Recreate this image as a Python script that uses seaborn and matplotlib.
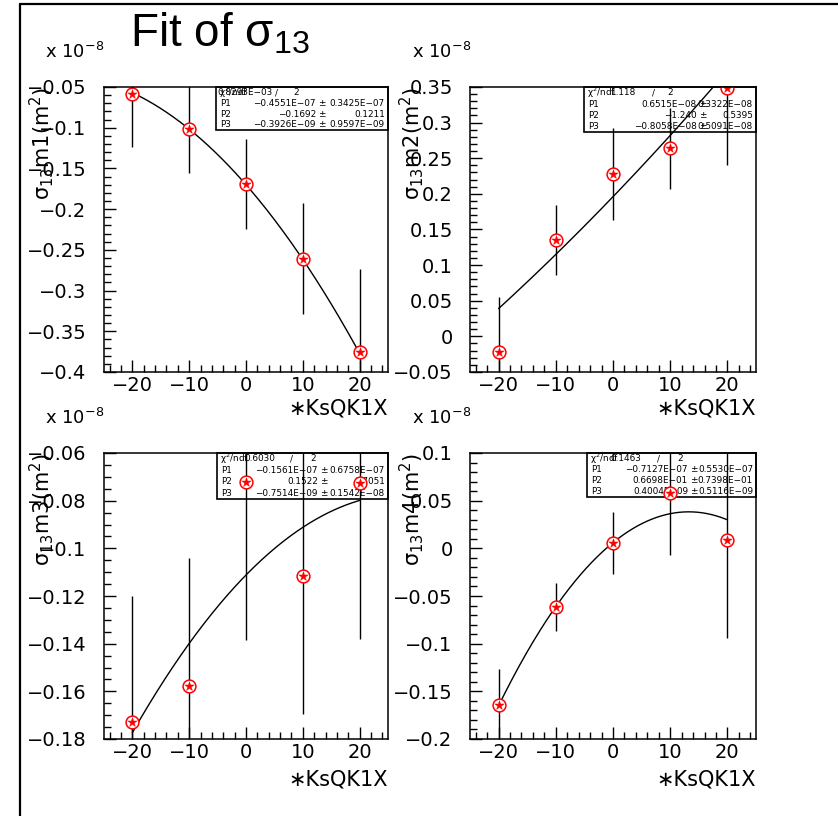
import numpy as np
import pandas as pd
import matplotlib
matplotlib.use('Agg')
import matplotlib.pyplot as plt
from matplotlib.ticker import MultipleLocator, FuncFormatter
from matplotlib.patches import Rectangle
from matplotlib.lines import Line2D
import seaborn as sns

# ---------------- data (y values in units of 1e-8 m^2) ----------------
x_vals = [-20, -10, 0, 10, 20]

m1_vals = [-0.0586, -0.1016, -0.169, -0.261, -0.3756]
m1_errs = [0.065, 0.054, 0.055, 0.068, 0.102]
m2_vals = [-0.0215, 0.135, 0.228, 0.264, 0.349]
m2_errs = [0.077, 0.049, 0.065, 0.057, 0.108]
m3_vals = [-0.1728, -0.1578, -0.072, -0.1116, -0.0725]
m3_errs = [0.053, 0.0536, 0.0665, 0.058, 0.0655]
m4_vals = [-0.164, -0.0615, 0.0056, 0.058, 0.0087]
m4_errs = [0.037, 0.025, 0.033, 0.065, 0.103]

# fitted curves f(x) = c0 + c1*x + c2*x^2
fit_c0 = [-0.170, 0.196, -0.1112, 0.006]
fit_c1 = [-0.008, 0.00835, 0.002435, 0.004875]
fit_c2 = [-0.0001175, 0.000025, -0.0000435, -0.000184]

# statistics boxes
chi2_vals = ['0.8293E\u221203', '1.118', '0.6030', '0.1463']
ndf_vals = ['2', '2', '2', '2']
p1_vals = ['\u22120.4551E\u221207', '0.6515E\u221208', '\u22120.1561E\u221207', '\u22120.7127E\u221207']
p1_errs = ['0.3425E\u221207', '0.3322E\u221208', '0.6758E\u221207', '0.5530E\u221207']
p2_vals = ['\u22120.1692', '\u22121.240', '0.1522', '0.6698E\u221201']
p2_errs = ['0.1211', '0.5395', '0.7051', '0.7398E\u221201']
p3_vals = ['\u22120.3926E\u221209', '\u22120.8058E\u221208', '\u22120.7514E\u221209', '0.4004E\u221209']
p3_errs = ['0.9597E\u221209', '0.5091E\u221208', '0.1542E\u221208', '0.5116E\u221209']

y_labels = ['σ_{13}m1 (m^{2})', 'σ_{13}m2 (m^{2})', 'σ_{13}m3 (m^{2})', 'σ_{13}m4 (m^{2})']
x_label = '\u2217KsQK1X'
title_text = 'Fit of $σ_{13}$'
scale_text = r'$x\ 10^{-8}$'

# ---------------- style / layout ----------------
sns.set_theme(style='white')
plt.rcParams['font.family'] = ['DejaVu Sans']
plt.rcParams['mathtext.default'] = 'regular'
plt.rcParams['axes.edgecolor'] = 'black'
plt.rcParams['axes.linewidth'] = 1.0
plt.rcParams['text.color'] = 'black'

W, H = 838, 816
fig = plt.figure(figsize=(W / 100, H / 100), dpi=100)
fig.patch.set_facecolor('white')

# figure frame lines
fig.add_artist(Line2D([20 / W, 20 / W], [0, 1 - 3.5 / H], color='black', lw=1.6))
fig.add_artist(Line2D([20 / W, 1], [1 - 3.5 / H, 1 - 3.5 / H], color='black', lw=1.6))

fig.text(130 / W, 1 - 46 / H, title_text, fontsize=33, ha='left', va='baseline',
         color='black', family=['Liberation Sans', 'DejaVu Sans'])

panel_px = [(104, 388, 87, 372), (470, 756, 87, 372),
            (104, 388, 453, 739), (470, 756, 453, 739)]
ylims = [(-0.4, -0.05), (-0.05, 0.35), (-0.18, -0.06), (-0.2, 0.1)]
ymajor = [0.05, 0.05, 0.02, 0.05]
yminor = [0.01, 0.01, 0.005, 0.01]
ylab_x_px = [42, 412, 42, 412]
scale_x_px = [45, 412, 45, 412]
xlab_dy = [37, 37, 40, 40]

box_left_px = [216, 584, 217, 587]
box_h_px = [43, 45, 46, 44]
chi_val_r = [57, 51, 58, 54]
chi_slash = [59, 68, 73, 70]
chi_ndf = [77, 83, 93, 90]
p_val_r = [100, 113, 101, 101]

vals_all = [m1_vals, m2_vals, m3_vals, m4_vals]
errs_all = [m1_errs, m2_errs, m3_errs, m4_errs]


def fmt(v, pos):
    v = round(v, 6)
    if abs(v) < 1e-9:
        return '0'
    return ('%g' % v).replace('-', '\u2212')


for i in range(4):
    l, r, t, b = panel_px[i]
    axw, axh = r - l, b - t
    ax = fig.add_axes([l / W, 1 - b / H, axw / W, axh / H])
    ax.set_facecolor('white')

    df = pd.DataFrame({'x': x_vals, 'y': vals_all[i], 'err': errs_all[i]})
    xf = np.linspace(-20, 20, 200)
    yf = fit_c0[i] + fit_c1[i] * xf + fit_c2[i] * xf ** 2

    # statistics box (under the data)
    bx0 = (box_left_px[i] - l) / axw
    bh = box_h_px[i] / axh
    ax.add_patch(Rectangle((bx0, 1 - bh), 1 - bx0, bh, transform=ax.transAxes,
                           facecolor='white', edgecolor='black', lw=1.2, zorder=1.5,
                           clip_on=False))

    def tx(off):
        return bx0 + off / axw

    row_y = [1 - bh * f for f in (0.13, 0.38, 0.63, 0.88)]
    kw = dict(transform=ax.transAxes, fontsize=6.4, va='center', zorder=1.6, color='black')
    ax.text(tx(3), row_y[0], r'$χ^{2}$/ndf', ha='left', **kw)
    ax.text(tx(chi_val_r[i]), row_y[0], chi2_vals[i], ha='right', **kw)
    ax.text(tx(chi_slash[i]), row_y[0], '/', ha='left', **kw)
    ax.text(tx(chi_ndf[i]), row_y[0], ndf_vals[i], ha='left', **kw)
    rows = [('P1', p1_vals[i], p1_errs[i]), ('P2', p2_vals[i], p2_errs[i]),
            ('P3', p3_vals[i], p3_errs[i])]
    for k, (nm, v, e) in enumerate(rows):
        y = row_y[k + 1]
        ax.text(tx(4), y, nm, ha='left', **kw)
        ax.text(tx(p_val_r[i]), y, v, ha='right', **kw)
        ax.text(tx(p_val_r[i] + 2), y, '\u00b1', ha='left', **kw)
        ax.text(1 - 3 / axw, y, e, ha='right', **kw)

    # error bars, fit, markers
    ax.errorbar(df['x'], df['y'], yerr=df['err'], fmt='none', ecolor='black',
                elinewidth=1.0, capsize=0, zorder=2)
    sns.lineplot(x=xf, y=yf, ax=ax, color='black', linewidth=1.0, zorder=2.5,
                 legend=False, sort=False)
    sns.scatterplot(data=df, x='x', y='y', ax=ax, marker='o', s=85,
                    facecolor='white', edgecolor='red', linewidth=1.1, zorder=3,
                    legend=False)
    sns.scatterplot(data=df, x='x', y='y', ax=ax, marker='*', s=50,
                    color='red', edgecolor='red', linewidth=0.3, zorder=3.1,
                    legend=False)

    ax.set_xlim(-25, 25)
    ax.set_ylim(*ylims[i])
    ax.set_xlabel('')
    ax.set_ylabel('')
    ax.xaxis.set_major_locator(MultipleLocator(10))
    ax.xaxis.set_minor_locator(MultipleLocator(2))
    ax.yaxis.set_major_locator(MultipleLocator(ymajor[i]))
    ax.yaxis.set_minor_locator(MultipleLocator(yminor[i]))
    ax.xaxis.set_major_formatter(FuncFormatter(fmt))
    ax.yaxis.set_major_formatter(FuncFormatter(fmt))
    ax.tick_params(which='both', direction='in', top=False, right=False,
                   left=True, bottom=True, width=1.0, color='black',
                   labelsize=14, labelcolor='black')
    ax.tick_params(which='major', length=8.6)
    ax.tick_params(which='minor', length=4.7)
    ax.tick_params(axis='x', pad=3)
    ax.tick_params(axis='y', pad=12.5)
    for s in ax.spines.values():
        s.set_color('black')
        s.set_linewidth(1.1)
        s.set_zorder(4)

    ax.text(1.0, -xlab_dy[i] / axh, x_label, transform=ax.transAxes, ha='right',
            va='center', fontsize=15, color='black')
    ax.text((ylab_x_px[i] - l) / axw, 1.0, '$' + y_labels[i] + '$', transform=ax.transAxes,
            rotation=90, ha='center', va='top', fontsize=15, color='black')
    ax.text((scale_x_px[i] - l) / axw, 1 + 29 / axh, scale_text, transform=ax.transAxes,
            ha='left', va='baseline', fontsize=13, color='black')

fig.savefig('out.png', dpi=100)
